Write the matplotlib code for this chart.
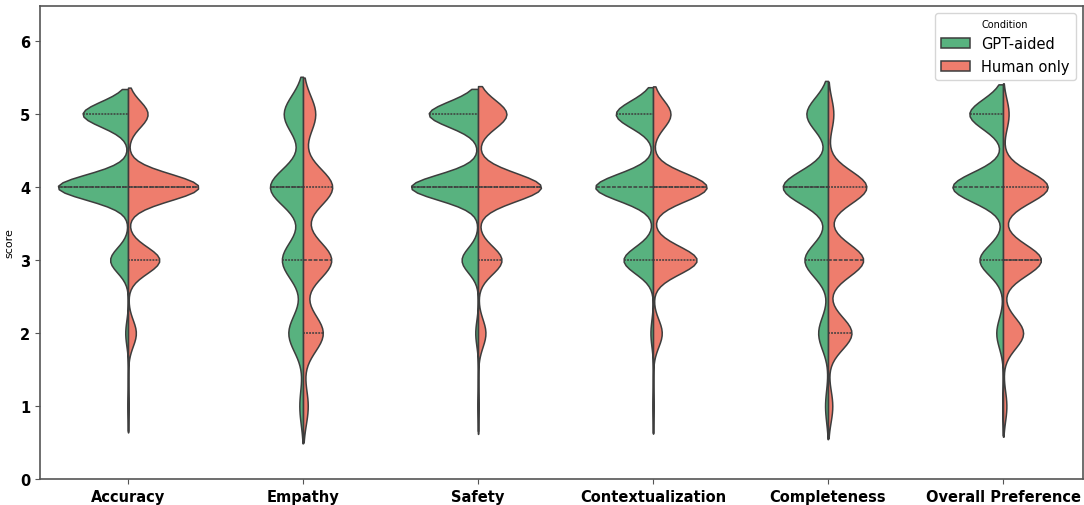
import numpy as np
import pandas as pd
import matplotlib
matplotlib.use("Agg")
import matplotlib.pyplot as plt
import seaborn as sns

categories = ["Accuracy", "Empathy", "Safety", "Contextualization",
              "Completeness", "Overall Preference"]
conditions = ["GPT-aided", "Human only"]
scores = [5, 4, 3, 2, 1]

# counts of ratings at scores 5,4,3,2,1 per category
gpt_counts = [
    [99, 153, 39, 6, 1],
    [63, 108, 69, 48, 12],
    [108, 147, 36, 6, 1],
    [87, 135, 69, 6, 1],
    [66, 138, 72, 30, 9],
    [90, 135, 63, 18, 2],
]
human_counts = [
    [45, 162, 72, 18, 1],
    [39, 93, 90, 63, 15],
    [69, 153, 57, 18, 1],
    [42, 129, 105, 21, 1],
    [15, 108, 99, 66, 12],
    [15, 120, 102, 54, 9],
]

rows = []
for cat, gc, hc in zip(categories, gpt_counts, human_counts):
    for cond, counts in zip(conditions, [gc, hc]):
        for s, c in zip(scores, counts):
            rows += [(cat, cond, s)] * c
df = pd.DataFrame(rows, columns=["category", "Condition", "score"])

palette = {"GPT-aided": "#58B27F", "Human only": "#EE7D6D"}

fig = plt.figure(figsize=(10.84, 5.06), dpi=100)
ax = fig.add_axes([40 / 1084, 1 - 480 / 506, (1083 - 40) / 1084, (480 - 7) / 506])
sns.violinplot(data=df, x="category", y="score", hue="Condition", split=True,
               inner="quart", palette=palette, saturation=1, bw_adjust=0.72,
               cut=2, linewidth=1.1, linecolor="#3d3d3d", ax=ax,
               order=categories, hue_order=conditions)

ax.set_ylim(0, 6.48)
ax.set_xlim(-0.503, 5.457)
ax.set_yticks(range(0, 7))
ax.set_xlabel("")
ax.set_ylabel("score", fontsize=8)
for lab in ax.get_xticklabels() + ax.get_yticklabels():
    lab.set_fontweight("bold")
    lab.set_fontsize(10.5)
for sp in ax.spines.values():
    sp.set_color("#555555")
    sp.set_linewidth(1.2)
ax.tick_params(color="#555555")

leg = ax.legend(loc="upper right", title="Condition", fontsize=10.5,
                title_fontsize=7, frameon=True)

fig.savefig("out.png", dpi=100)
